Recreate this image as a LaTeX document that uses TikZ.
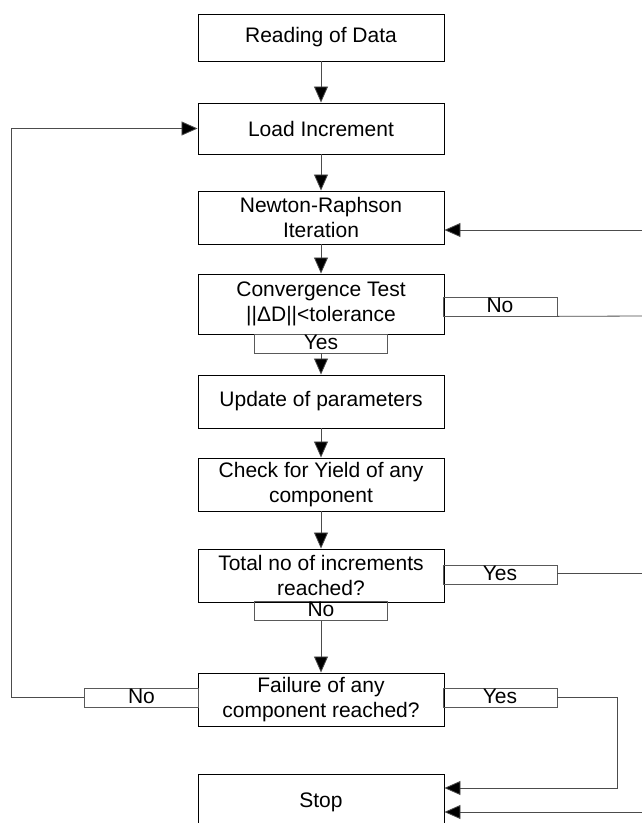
\documentclass[tikz,border=0pt]{standalone}
\usepackage{fontspec}
\setmainfont{Liberation Sans}
\usetikzlibrary{arrows.meta}
\begin{document}
\begin{tikzpicture}[x=1pt,y=-1pt,
  stepbox/.style={draw=black,line width=0.9pt,minimum width=246pt,inner sep=0pt,align=center,
    font=\fontsize{21}{25}\selectfont},
  lab/.style={draw=black!65,line width=0.7pt,minimum width=114pt,minimum height=19pt,inner sep=0pt,
    text height=15pt,text depth=4pt,font=\fontsize{21}{25}\selectfont},
  labw/.style={lab,minimum width=133pt},
  conn/.style={draw=black!70,line width=0.8pt},
  arr/.style={conn,-{Triangle[length=16pt,width=14pt,fill=black]}}]
\clip (0,0) rectangle (642,823);
\fill[white] (0,0) rectangle (642,823);
% main boxes
\node[stepbox,minimum height=47pt] (read) at (321,37.5) {Reading of Data};
\node[stepbox,minimum height=51pt] (load) at (321,128.5) {Load Increment};
\node[stepbox,minimum height=53pt] (newton) at (321,217.5) {Newton-Raphson\\Iteration};
\node[stepbox,minimum height=60pt] (conv) at (321,304) {Convergence Test\\||ΔD||<tolerance};
\node[stepbox,minimum height=53pt] (update) at (321,401.5) {Update of parameters};
\node[stepbox,minimum height=53pt] (check) at (321,484.5) {Check for Yield of any\\component};
\node[stepbox,minimum height=53pt] (total) at (321,575.5) {Total no of increments\\reached?};
\node[stepbox,minimum height=53pt] (fail) at (321,699.5) {Failure of any\\component reached?};
\node[stepbox,minimum height=56pt] (stop) at (321,802) {Stop};
% label boxes
\node[lab] (convNo) at (500,306.5) {No};
\node[labw] (convYes) at (321,343.5) {Yes};
\node[lab] (totYes) at (500,575) {Yes};
\node[labw] (totNo) at (321,611) {No};
\node[lab] (failNo) at (141.5,697.5) {No};
\node[lab] (failYes) at (500,697.5) {Yes};
% free ends
\coordinate (rinN) at (642,230);
\coordinate (routC) at (642,316);
\coordinate (routT) at (642,573);
\coordinate (rc) at (617,788);
\coordinate (rinS) at (642,812);
\coordinate (lx) at (11,697.5);
% connectors
\draw[arr] (read) -- (load);
\draw[arr] (load) -- (newton);
\draw[arr] (newton) -- (conv);
\draw[arr] (convYes) -- (update);
\draw[arr] (update) -- (check);
\draw[arr] (check) -- (total);
\draw[arr] (totNo) -- (fail);
\draw[arr] (rinN) -- (rinN -| newton.east);
\draw[conn] (convNo.south east) -- (routC);
\draw[conn] (totYes.east |- routT) -- (routT);
\draw[arr] (failNo.west) -- (lx) |- (load.west);
\draw[arr] (failYes.east) -| (rc) -- (rc -| stop.east);
\draw[arr] (rinS) -- (rinS -| stop.east);
\end{tikzpicture}
\end{document}
